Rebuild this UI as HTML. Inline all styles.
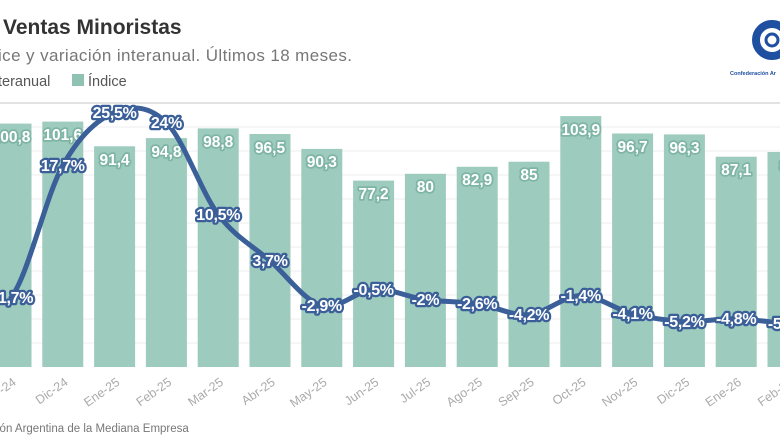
<!DOCTYPE html>
<html><head><meta charset="utf-8"><style>
html,body{margin:0;padding:0;background:#fff;overflow:hidden}
svg{display:block;font-family:"Liberation Sans",sans-serif}
.bl{font-weight:bold;font-size:15.5px;fill:#fff;stroke:#7fb5a4;stroke-width:3.5px;paint-order:stroke;stroke-linejoin:round;text-anchor:middle}
.ll{font-weight:bold;font-size:16px;fill:#fff;stroke:#3b5f98;stroke-width:4.5px;paint-order:stroke;stroke-linejoin:round;text-anchor:middle;letter-spacing:-0.3px}
.xl{font-size:12.5px;fill:#aaa;text-anchor:end}
</style></head><body>
<svg width="780" height="448" viewBox="0 0 780 448">
<text x="3" y="34" font-size="21" font-weight="bold" fill="#333">Ventas Minoristas</text>
<text x="-2" y="61" font-size="17" fill="#777" letter-spacing="0.4">ice y variación interanual. Últimos 18 meses.</text>
<text x="-2" y="86" font-size="14.5" fill="#555">teranual</text>
<rect x="72" y="74" width="12" height="12" fill="#8fc2b2"/>
<text x="88" y="86" font-size="14.5" fill="#555">Índice</text>
<circle cx="772" cy="40" r="16" fill="none" stroke="#1f4fa0" stroke-width="8"/>
<circle cx="772" cy="40" r="6" fill="none" stroke="#1f4fa0" stroke-width="3"/>
<text x="730" y="75" font-size="5.5" font-weight="bold" fill="#1f4fa0">Confederación Ar</text>
<g stroke="#ececec" stroke-width="1">
<line x1="0" y1="103" x2="780" y2="103" stroke="#e2e2e2" stroke-width="2"/>
<line x1="0" y1="127" x2="780" y2="127"/><line x1="0" y1="151" x2="780" y2="151"/>
<line x1="0" y1="175" x2="780" y2="175"/><line x1="0" y1="199" x2="780" y2="199"/>
<line x1="0" y1="223" x2="780" y2="223"/><line x1="0" y1="247" x2="780" y2="247"/>
<line x1="0" y1="271" x2="780" y2="271"/><line x1="0" y1="295" x2="780" y2="295"/>
<line x1="0" y1="319" x2="780" y2="319"/><line x1="0" y1="343" x2="780" y2="343"/>
</g>
<g fill="#9dcbbd">
<rect x="-9.5" y="123.6" width="41" height="243.4"/>
<rect x="42.3" y="121.6" width="41" height="245.4"/>
<rect x="94.1" y="146.3" width="41" height="220.7"/>
<rect x="145.9" y="138.1" width="41" height="228.9"/>
<rect x="197.7" y="128.4" width="41" height="238.6"/>
<rect x="249.5" y="134" width="41" height="233"/>
<rect x="301.3" y="148.9" width="41" height="218.1"/>
<rect x="353.1" y="180.6" width="41" height="186.4"/>
<rect x="404.9" y="173.8" width="41" height="193.2"/>
<rect x="456.7" y="166.8" width="41" height="200.2"/>
<rect x="508.5" y="161.7" width="41" height="205.3"/>
<rect x="560.3" y="116.1" width="41" height="250.9"/>
<rect x="612.1" y="133.5" width="41" height="233.5"/>
<rect x="663.9" y="134.4" width="41" height="232.6"/>
<rect x="715.7" y="156.7" width="41" height="210.3"/>
<rect x="767.5" y="152" width="41" height="215"/>
</g>
<g class="bl">
<text x="11" y="142">100,8</text><text x="62.8" y="140">101,6</text>
<text x="114.6" y="165">91,4</text><text x="166.4" y="157">94,8</text>
<text x="218.2" y="147">98,8</text><text x="270" y="153">96,5</text>
<text x="321.8" y="167">90,3</text><text x="373.6" y="199">77,2</text>
<text x="425.4" y="192">80</text><text x="477.2" y="185">82,9</text>
<text x="529" y="180">85</text><text x="580.8" y="135">103,9</text>
<text x="632.6" y="152">96,7</text><text x="684.4" y="153">96,3</text>
<text x="736.2" y="175">87,1</text><text x="788" y="171">89</text>
</g>
<path d="M11,297.6 C28.3,275.6 45.5,196.4 62.8,165.5 C80.1,134.6 97.3,119.5 114.6,112.3 C131.9,105.2 149.1,105.6 166.4,122.6 C183.7,139.6 200.9,191.5 218.2,214.5 C235.5,237.5 252.7,245.6 270,260.8 C287.3,276 304.5,300.9 321.8,305.7 C339.1,310.5 356.3,290.4 373.6,289.4 C390.9,288.4 408.1,297.2 425.4,299.6 C442.7,302 459.9,301.2 477.2,303.7 C494.5,306.2 511.7,316 529,314.6 C546.3,313.2 563.5,295.6 580.8,295.5 C598.1,295.4 615.3,309.6 632.6,313.9 C649.9,318.2 667.1,320.6 684.4,321.4 C701.7,322.2 718.9,318.35 736.2,318.7 C753.5,319.05 770.7,322.7 788,323.5" fill="none" stroke="#3b5f98" stroke-width="5" stroke-linecap="round"/>
<g class="ll">
<text x="13" y="303">-1,7%</text><text x="62.8" y="171">17,7%</text>
<text x="114.6" y="118">25,5%</text><text x="166.4" y="128">24%</text>
<text x="218.2" y="220">10,5%</text><text x="270" y="266">3,7%</text>
<text x="321.8" y="311">-2,9%</text><text x="373.6" y="295">-0,5%</text>
<text x="425.4" y="305">-2%</text><text x="477.2" y="309">-2,6%</text>
<text x="529" y="320">-4,2%</text><text x="580.8" y="301">-1,4%</text>
<text x="632.6" y="319">-4,1%</text><text x="684.4" y="327">-5,2%</text>
<text x="736.2" y="324">-4,8%</text><text x="788" y="329">-5,5%</text>
</g>
<g class="xl">
<text transform="translate(17,384) rotate(-35)">Nov-24</text>
<text transform="translate(68.8,384) rotate(-35)">Dic-24</text>
<text transform="translate(120.6,384) rotate(-35)">Ene-25</text>
<text transform="translate(172.4,384) rotate(-35)">Feb-25</text>
<text transform="translate(224.2,384) rotate(-35)">Mar-25</text>
<text transform="translate(276,384) rotate(-35)">Abr-25</text>
<text transform="translate(327.8,384) rotate(-35)">May-25</text>
<text transform="translate(379.6,384) rotate(-35)">Jun-25</text>
<text transform="translate(431.4,384) rotate(-35)">Jul-25</text>
<text transform="translate(483.2,384) rotate(-35)">Ago-25</text>
<text transform="translate(535,384) rotate(-35)">Sep-25</text>
<text transform="translate(586.8,384) rotate(-35)">Oct-25</text>
<text transform="translate(638.6,384) rotate(-35)">Nov-25</text>
<text transform="translate(690.4,384) rotate(-35)">Dic-25</text>
<text transform="translate(742.2,384) rotate(-35)">Ene-26</text>
<text transform="translate(794,384) rotate(-35)">Feb-26</text>
</g>
<text x="-3" y="432" font-size="11.5" fill="#777">ión Argentina de la Mediana Empresa</text>
</svg>
</body></html>
